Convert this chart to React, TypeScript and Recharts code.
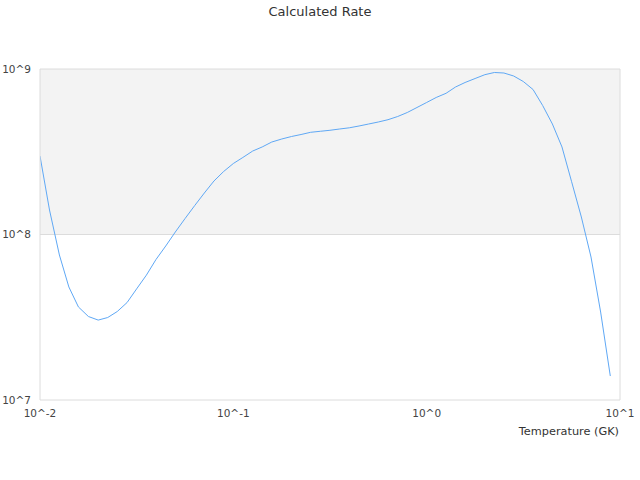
import React from 'react';
import { LineChart, Line, XAxis, YAxis, ReferenceArea, ReferenceLine, Customized } from 'recharts';

const temperatures = [
  0.01, 0.0112, 0.0126, 0.0141, 0.0158, 0.0178, 0.02, 0.0224, 0.0251, 0.0282,
  0.0316, 0.0355, 0.0398, 0.0447, 0.0501, 0.0562, 0.0631, 0.0708, 0.0794, 0.0891,
  0.1, 0.112, 0.126, 0.141, 0.158, 0.178, 0.2, 0.224, 0.251, 0.282,
  0.316, 0.355, 0.398, 0.447, 0.501, 0.562, 0.631, 0.708, 0.794, 0.891,
  1, 1.12, 1.26, 1.41, 1.58, 1.78, 2, 2.24, 2.51, 2.82,
  3.16, 3.55, 3.98, 4.47, 5.01, 5.62, 6.31, 7.08, 7.94, 8.91,
];

const rates = [
  2.98e8, 1.406e8, 7.52e7, 4.82e7, 3.65e7, 3.195e7, 3.04e7, 3.15e7, 3.425e7, 3.88e7,
  4.69e7, 5.68e7, 7.06e7, 8.52e7, 1.035e8, 1.246e8, 1.495e8, 1.781e8, 2.105e8, 2.403e8,
  2.685e8, 2.92e8, 3.195e8, 3.38e8, 3.62e8, 3.776e8, 3.91e8, 4.02e8, 4.145e8, 4.205e8,
  4.263e8, 4.34e8, 4.413e8, 4.525e8, 4.652e8, 4.783e8, 4.94e8, 5.164e8, 5.46e8, 5.853e8,
  6.277e8, 6.727e8, 7.133e8, 7.783e8, 8.288e8, 8.76e8, 9.24e8, 9.525e8, 9.458e8, 9.07e8,
  8.405e8, 7.518e8, 6.02e8, 4.652e8, 3.38e8, 2.084e8, 1.276e8, 7.31e7, 3.4e7, 1.396e7,
];

const xTicks = [0.01, 0.1, 1, 10];
const xTickLabels = ['10^-2', '10^-1', '10^0', '10^1'];
const yTicks = [1e7, 1e8, 1e9];
const yTickLabels = ['10^7', '10^8', '10^9'];

const title = 'Calculated Rate';
const xAxisTitle = 'Temperature (GK)';

const data = temperatures.map((t, i) => ({ t, rate: rates[i] }));

const FONT = '"DejaVu Sans", sans-serif';
const BORDER = '#dcdcdc';

export default function App() {
  return (
    <div style={{ position: 'absolute', left: 0, top: 0, width: 640, height: 480, background: '#fff' }}>
      <LineChart width={640} height={480} data={data} margin={{ top: 69, right: 20, bottom: 50, left: 0 }}>
        <ReferenceArea x1={0.01} x2={10} y1={1e8} y2={1e9} fill="#f3f3f3" fillOpacity={1} stroke="none" ifOverflow="hidden" />
        <ReferenceLine y={1e8} stroke={BORDER} strokeWidth={1} />
        <ReferenceLine y={1e9} stroke={BORDER} strokeWidth={1} />
        <ReferenceLine x={10} stroke={BORDER} strokeWidth={1} />
        <XAxis
          dataKey="t"
          type="number"
          scale="log"
          domain={[0.01, 10]}
          ticks={xTicks}
          tickFormatter={(v: number) => xTickLabels[xTicks.indexOf(v)] ?? ''}
          allowDataOverflow
          height={30}
          axisLine={{ stroke: BORDER }}
          tickLine={false}
          tickSize={6}
          tickMargin={4}
          tick={{ fill: '#444', fontSize: 10.5, fontFamily: FONT }}
          interval={0}
        />
        <YAxis
          type="number"
          scale="log"
          domain={[1e7, 1e9]}
          ticks={yTicks}
          tickFormatter={(v: number) => yTickLabels[yTicks.indexOf(v)] ?? ''}
          allowDataOverflow
          width={40}
          axisLine={{ stroke: BORDER }}
          tickLine={false}
          tickSize={6}
          tickMargin={3}
          tick={{ fill: '#444', fontSize: 10.5, fontFamily: FONT }}
          interval={0}
        />
        <Line
          dataKey="rate"
          type="linear"
          stroke="#5fa8f5"
          strokeWidth={1}
          dot={false}
          isAnimationActive={false}
        />
        <Customized
          component={() => (
            <g>
              <text x={320} y={16} textAnchor="middle" fontSize={13} fontFamily={FONT} fill="#333">
                {title}
              </text>
              <text x={619} y={435} textAnchor="end" fontSize={11.3} fontFamily={FONT} fill="#333">
                {xAxisTitle}
              </text>
            </g>
          )}
        />
      </LineChart>
    </div>
  );
}
